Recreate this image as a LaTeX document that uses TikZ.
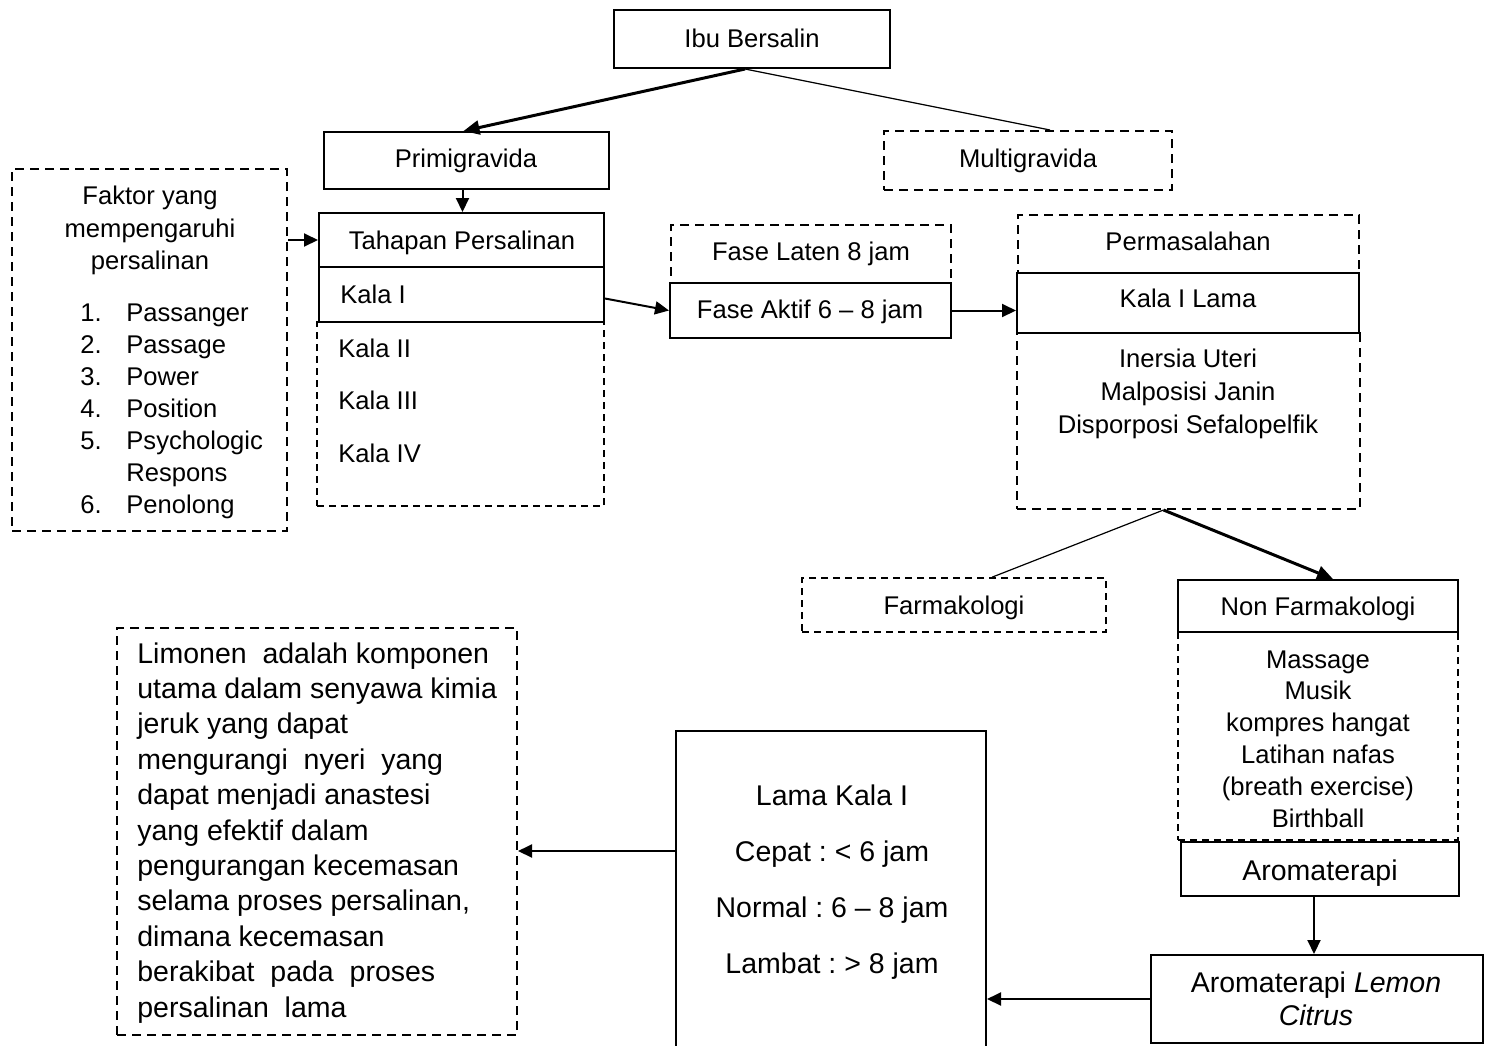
\documentclass[tikz,border=0pt]{standalone}
\usepackage{fontspec}
\setmainfont{Liberation Sans}
\usetikzlibrary{arrows.meta,fit,calc}
\begin{document}
\frenchspacing
\begin{tikzpicture}[x=0.5pt,y=-0.5pt,
  box/.style={draw,line width=1pt,inner sep=0pt},
  dbox/.style={draw,line width=1pt,dash pattern=on 4.5pt off 3pt,inner sep=0pt},
  tdbox/.style={draw,line width=0.8pt,dash pattern=on 3.5pt off 2.5pt,inner sep=0pt},
  txt/.style={font=\fontsize{12.8}{16}\selectfont,inner sep=0pt,anchor=base},
  btxt/.style={font=\fontsize{14.25}{18}\selectfont,inner sep=0pt,anchor=base},
  arr/.style={line width=1pt,-{Triangle[length=7pt,width=6.5pt]}},
  tarr/.style={line width=1.5pt,-{Triangle[length=8pt,width=7pt]}},
  thinline/.style={line width=0.6pt}]
\useasboundingbox (0,0) rectangle (1495,1045);

% boxes
\node[box,fit={(614,10)(890,68)}] (ibu) {};
\node[box,fit={(324,132)(609,189)}] (prim) {};
\node[dbox,fit={(884,131)(1172,190)}] (multi) {};
\node[dbox,fit={(12,169)(287,531)}] (faktor) {};
\node[tdbox,fit={(317,322)(604,506)}] (kaladash) {};
\node[box,fit={(319,213)(604,267)}] (tahap) {};
\node[box,fit={(319,267)(604,322)}] (kala1) {};
\node[dbox,fit={(671,225)(951,283)}] (laten) {};
\node[box,fit={(670,283)(951,338)}] (aktif) {};
\node[dbox,fit={(1018,215)(1359,273)}] (masalah) {};
\node[dbox,fit={(1017,333)(1360,509)}] (masdash) {};
\node[box,fit={(1017,273)(1359,333)}] (klama) {};
\node[tdbox,fit={(802,578)(1106,632)}] (farm) {};
\node[tdbox,fit={(1178,632)(1458,840)}] (nfdash) {};
\node[box,fit={(1178,580)(1458,632)}] (nonfarm) {};
\node[box,fit={(1181,842)(1459,896)}] (aroma) {};
\node[box,fit={(1151,955)(1483,1043)}] (lemon) {};
\node[box,fit={(676,731)(986,1075)}] (lama) {};
\node[dbox,fit={(117,628)(517,1035)}] (limonen) {};

% texts
\node[txt] (tibu) at (752,47) {Ibu Bersalin};
\node[txt] (tprim) at (466,167) {Primigravida};
\node[txt] (tmulti) at (1028,167) {Multigravida};
\node[txt] (tf1) at (150,204) {Faktor yang};
\node[txt] (tf2) at (150,237) {mempengaruhi};
\node[txt] (tf3) at (150,269) {persalinan};
\foreach \t [count=\i] in {{\makebox[23pt][l]{1.}Passanger},{\makebox[23pt][l]{2.}Passage},{\makebox[23pt][l]{3.}Power},{\makebox[23pt][l]{4.}Position},{\makebox[23pt][l]{5.}Psychologic},{\makebox[23pt][l]{}Respons},{\makebox[23pt][l]{6.}Penolong}}
  \node[txt,anchor=base west] (fl\i) at (80,{321+32*(\i-1)}) {\t};
\node[txt] (ttahap) at (462,249) {Tahapan Persalinan};
\node[txt,anchor=base west] (tk1) at (340,303) {Kala I};
\node[txt,anchor=base west] (tk2) at (338,357) {Kala II};
\node[txt,anchor=base west] (tk3) at (338,409) {Kala III};
\node[txt,anchor=base west] (tk4) at (338,462) {Kala IV};
\node[txt] (tlaten) at (811,260) {Fase Laten 8 jam};
\node[txt] (taktif) at (810,318) {Fase Aktif 6 – 8 jam};
\node[txt] (tmasalah) at (1188,250) {Permasalahan};
\node[txt] (tklama) at (1188,307) {Kala I Lama};
\node[txt] (tm1) at (1188,367) {Inersia Uteri};
\node[txt] (tm2) at (1188,400) {Malposisi Janin};
\node[txt] (tm3) at (1188,433) {Disporposi Sefalopelfik};
\node[txt] (tfarm) at (954,614) {Farmakologi};
\node[txt] (tnonfarm) at (1318,615) {Non Farmakologi};
\foreach \t [count=\i] in {Massage,Musik,kompres hangat,Latihan nafas,(breath exercise),Birthball}
  \node[txt] (nf\i) at (1318,{668+31.8*(\i-1)}) {\t};
\node[btxt] (taroma) at (1320,880) {Aromaterapi};
\node[btxt] (tlemon1) at (1316,992) {Aromaterapi \textit{Lemon}};
\node[btxt] (tlemon2) at (1316,1025) {\textit{Citrus}};
\node[btxt] (tl1) at (832,805) {Lama Kala I};
\node[btxt] (tl2) at (832,861) {Cepat : < 6 jam};
\node[btxt] (tl3) at (832,917) {Normal : 6 – 8 jam};
\node[btxt] (tl4) at (832,973) {Lambat : > 8 jam};
\foreach \t [count=\i] in {{Limonen\ \ adalah komponen},{utama dalam senyawa kimia},{jeruk yang dapat},{mengurangi\ \ nyeri\ \ yang},{dapat menjadi anastesi},{yang efektif dalam},{pengurangan kecemasan},{selama proses persalinan,},{dimana kecemasan},{berakibat\ \ pada\ \ proses},{persalinan\ \ lama}}
  \node[btxt,anchor=base west] (lim\i) at (137,{663+35.4*(\i-1)}) {\t};

% connectors
\coordinate (apex1) at ($(ibu.south)+(-7,0)$);
\draw[tarr] (apex1) -- ($(prim.north)+(-3,0)$);
\draw[thinline] (apex1) -- ($(multi.north)+(22,0)$);
\coordinate (pdown) at ($(prim.south)+(-4,0)$);
\draw[arr] (pdown) -- (pdown |- tahap.north);
\draw[arr] (faktor.east |- tahap.west) -- (tahap.west);
\draw[arr] ($(kala1.east)+(0,4)$) -- (aktif.west);
\draw[arr] (aktif.east) -- (aktif.east -| klama.west);
\coordinate (apex2) at ($(masdash.south)+(-25,0)$);
\draw[thinline] (apex2) -- ($(farm.north)+(38,0)$);
\draw[tarr] (apex2) -- ($(nonfarm.north)+(15,0)$);
\coordinate (adown) at ($(aroma.south)+(-6,0)$);
\draw[arr] (adown) -- (adown |- lemon.north);
\draw[arr] (lemon.west) -- (lemon.west -| lama.east);
\coordinate (lamaout) at ($(lama.north west)+(0,121)$);
\draw[arr] (lamaout) -- (lamaout -| limonen.east);
\end{tikzpicture}
\end{document}
